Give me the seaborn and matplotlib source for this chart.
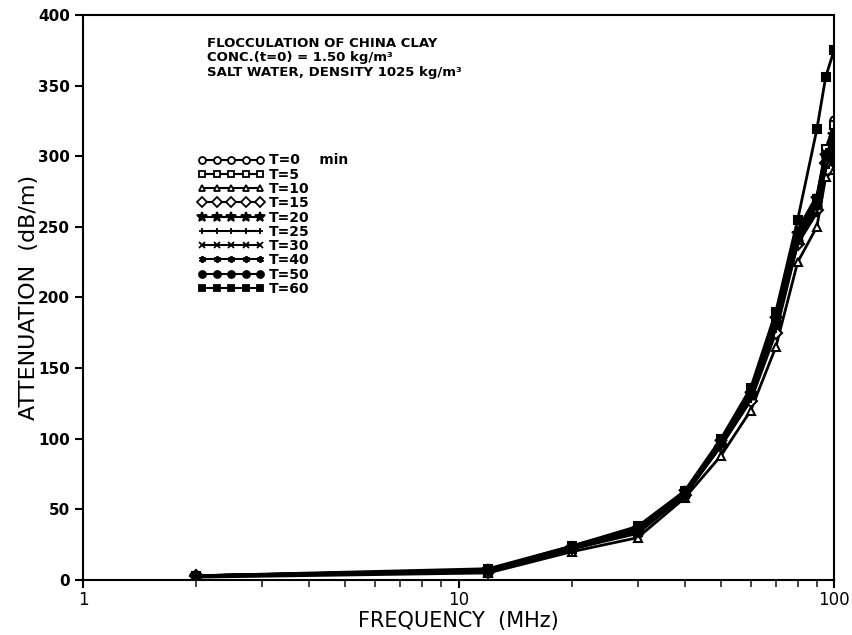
import matplotlib
matplotlib.use("Agg")
import matplotlib.pyplot as plt
import matplotlib.ticker as mticker
import numpy as np
import pandas as pd
import seaborn as sns

# frequencies (MHz) and attenuation (dB/m) for each floc time
freq = [2, 12, 20, 30, 40, 50, 60, 70, 80, 90, 95, 100]

t0 = [3, 6, 22, 33, 60, 95, 128, 180, 240, 265, 300, 326]
t5 = [3, 6, 22, 34, 61, 96, 130, 182, 242, 270, 305, 322]
t10 = [2, 5, 20, 30, 58, 88, 120, 165, 225, 250, 285, 290]
t15 = [3, 6, 23, 35, 60, 95, 127, 175, 238, 262, 295, 310]
t20 = [3, 7, 23, 36, 62, 98, 132, 185, 245, 270, 300, 315]
t25 = [3, 6, 22, 34, 60, 95, 128, 178, 238, 260, 292, 305]
t30 = [3, 6, 22, 35, 61, 96, 130, 180, 240, 265, 298, 312]
t40 = [3, 7, 24, 37, 62, 98, 133, 185, 248, 272, 303, 300]
t50 = [3, 7, 23, 36, 61, 97, 131, 183, 244, 268, 300, 296]
t60 = [3, 8, 24, 38, 63, 100, 136, 190, 255, 319, 356, 375]

labels = ["T=0    min", "T=5", "T=10", "T=15", "T=20", "T=25", "T=30", "T=40", "T=50", "T=60"]
series = [t0, t5, t10, t15, t20, t25, t30, t40, t50, t60]

# marker, filled?
styles = [("o", False), ("s", False), ("^", False), ("D", False), ("*", True),
          ("+", True), ("x", True), ((6, 2, 0), True), ("o", True), ("s", True)]

sns.set_style("ticks")
plt.rcParams["font.family"] = ["DejaVu Sans"]
plt.rcParams["text.color"] = "black"
plt.rcParams["axes.labelcolor"] = "black"

fig = plt.figure(figsize=(8.52, 6.35), dpi=100)
ax = fig.add_axes([0.0974, 0.0866, 0.8815, 0.8898])

for lab, vals, (mk, filled) in zip(labels, series, styles):
    df = pd.DataFrame({"freq": freq, "att": vals})
    sz = 9 if mk == "*" else 6
    sns.lineplot(data=df, x="freq", y="att", ax=ax, color="black", lw=2,
                 marker=mk, markersize=sz, markeredgewidth=1.5,
                 markerfacecolor="black" if filled else "white",
                 markeredgecolor="black", label=lab)

ax.set_xscale("log")
ax.set_xlim(1, 100)
ax.set_ylim(0, 400)
ax.xaxis.set_major_locator(mticker.FixedLocator([1, 10, 100]))
ax.xaxis.set_major_formatter(mticker.FixedFormatter(["1", "10", "100"]))
ax.xaxis.set_minor_locator(mticker.LogLocator(base=10, subs=np.arange(2, 10)))
ax.xaxis.set_minor_formatter(mticker.NullFormatter())
ax.set_yticks(np.arange(0, 401, 50))

for s in ax.spines.values():
    s.set_linewidth(1.5)
    s.set_color("black")
ax.tick_params(axis="both", which="major", direction="out", length=6, width=1.5,
               colors="black")
ax.tick_params(axis="y", labelsize=11)
ax.tick_params(axis="x", labelsize=12, pad=2)
ax.tick_params(axis="x", which="minor", direction="out", length=5, width=1.2)
for t in ax.get_yticklabels():
    t.set_fontweight("bold")

ax.set_xlabel("FREQUENCY  (MHz)", fontsize=15, labelpad=1)
ax.set_ylabel("ATTENUATION  (dB/m)", fontsize=16, labelpad=-1)

note_lines = ["FLOCCULATION OF CHINA CLAY", "CONC.(t=0) = 1.50 kg/m³",
              "SALT WATER, DENSITY 1025 kg/m³"]
for yy, line in zip([0.950, 0.924, 0.898], note_lines):
    ax.text(0.165, yy, line, transform=ax.transAxes, fontsize=9.5,
            fontweight="bold", va="center", ha="left")

leg = ax.legend(loc="upper left", bbox_to_anchor=(0.153, 0.755), frameon=False,
                numpoints=5, handlelength=4.8, handletextpad=0.3,
                labelspacing=0.02, borderpad=0, borderaxespad=0,
                prop={"size": 10, "weight": "bold"})
for h in leg.legend_handles:
    mk = h.get_marker()
    h.set_markersize(7 if mk == "*" else 5)
    h.set_markeredgewidth(1.3)
    h.set_linewidth(1.5)

fig.savefig("out.png", dpi=100)
